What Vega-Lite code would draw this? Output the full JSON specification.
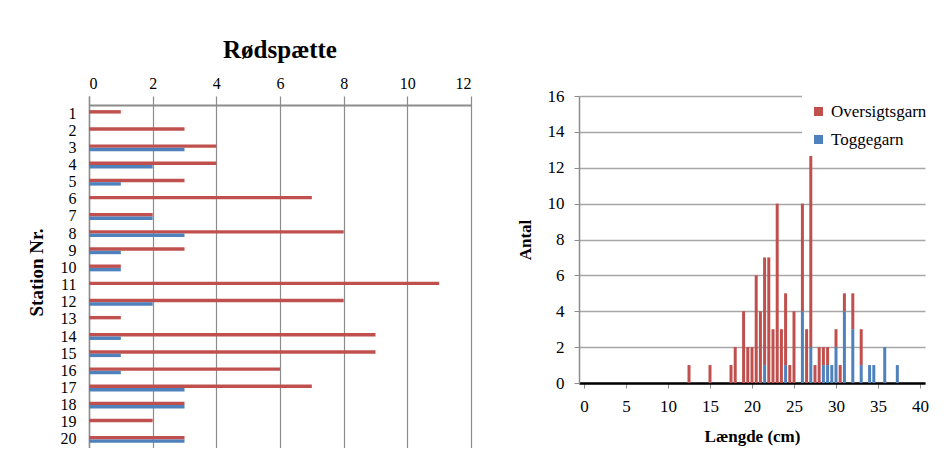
{
  "$schema": "https://vega.github.io/schema/vega-lite/v6.json",
  "padding": {"left": 27, "top": 38, "right": 0, "bottom": 0},
  "background": "white",
  "spacing": 45,
  "config": {
    "font": "Liberation Serif",
    "axis": {"labelFont": "Liberation Serif", "titleFont": "Liberation Serif", "labelColor": "black", "titleColor": "black"},
    "legend": {"labelFont": "Liberation Serif", "labelColor": "black"},
    "title": {"font": "Liberation Serif"}
  },
  "datasets": {
    "stations": [
      {"station": 1, "gear": "Oversigtsgarn", "n": 1}, {"station": 1, "gear": "Toggegarn", "n": 0},
      {"station": 2, "gear": "Oversigtsgarn", "n": 3}, {"station": 2, "gear": "Toggegarn", "n": 0},
      {"station": 3, "gear": "Oversigtsgarn", "n": 4}, {"station": 3, "gear": "Toggegarn", "n": 3},
      {"station": 4, "gear": "Oversigtsgarn", "n": 4}, {"station": 4, "gear": "Toggegarn", "n": 2},
      {"station": 5, "gear": "Oversigtsgarn", "n": 3}, {"station": 5, "gear": "Toggegarn", "n": 1},
      {"station": 6, "gear": "Oversigtsgarn", "n": 7}, {"station": 6, "gear": "Toggegarn", "n": 0},
      {"station": 7, "gear": "Oversigtsgarn", "n": 2}, {"station": 7, "gear": "Toggegarn", "n": 2},
      {"station": 8, "gear": "Oversigtsgarn", "n": 8}, {"station": 8, "gear": "Toggegarn", "n": 3},
      {"station": 9, "gear": "Oversigtsgarn", "n": 3}, {"station": 9, "gear": "Toggegarn", "n": 1},
      {"station": 10, "gear": "Oversigtsgarn", "n": 1}, {"station": 10, "gear": "Toggegarn", "n": 1},
      {"station": 11, "gear": "Oversigtsgarn", "n": 11}, {"station": 11, "gear": "Toggegarn", "n": 0},
      {"station": 12, "gear": "Oversigtsgarn", "n": 8}, {"station": 12, "gear": "Toggegarn", "n": 2},
      {"station": 13, "gear": "Oversigtsgarn", "n": 1}, {"station": 13, "gear": "Toggegarn", "n": 0},
      {"station": 14, "gear": "Oversigtsgarn", "n": 9}, {"station": 14, "gear": "Toggegarn", "n": 1},
      {"station": 15, "gear": "Oversigtsgarn", "n": 9}, {"station": 15, "gear": "Toggegarn", "n": 1},
      {"station": 16, "gear": "Oversigtsgarn", "n": 6}, {"station": 16, "gear": "Toggegarn", "n": 1},
      {"station": 17, "gear": "Oversigtsgarn", "n": 7}, {"station": 17, "gear": "Toggegarn", "n": 3},
      {"station": 18, "gear": "Oversigtsgarn", "n": 3}, {"station": 18, "gear": "Toggegarn", "n": 3},
      {"station": 19, "gear": "Oversigtsgarn", "n": 2}, {"station": 19, "gear": "Toggegarn", "n": 0},
      {"station": 20, "gear": "Oversigtsgarn", "n": 3}, {"station": 20, "gear": "Toggegarn", "n": 3}
    ],
    "lengths": [
      {"len": 12.5, "gear": "Oversigtsgarn", "n": 1},
      {"len": 15, "gear": "Oversigtsgarn", "n": 1},
      {"len": 17.5, "gear": "Oversigtsgarn", "n": 1},
      {"len": 18, "gear": "Oversigtsgarn", "n": 2},
      {"len": 19, "gear": "Oversigtsgarn", "n": 4},
      {"len": 19.5, "gear": "Oversigtsgarn", "n": 2},
      {"len": 20, "gear": "Oversigtsgarn", "n": 2},
      {"len": 20.5, "gear": "Oversigtsgarn", "n": 6},
      {"len": 21, "gear": "Oversigtsgarn", "n": 4},
      {"len": 21.5, "gear": "Toggegarn", "n": 1}, {"len": 21.5, "gear": "Oversigtsgarn", "n": 6},
      {"len": 22, "gear": "Oversigtsgarn", "n": 7},
      {"len": 22.5, "gear": "Oversigtsgarn", "n": 3},
      {"len": 23, "gear": "Oversigtsgarn", "n": 10},
      {"len": 23.5, "gear": "Oversigtsgarn", "n": 3},
      {"len": 24, "gear": "Toggegarn", "n": 1}, {"len": 24, "gear": "Oversigtsgarn", "n": 4},
      {"len": 24.5, "gear": "Oversigtsgarn", "n": 1},
      {"len": 25, "gear": "Oversigtsgarn", "n": 4},
      {"len": 26, "gear": "Toggegarn", "n": 4}, {"len": 26, "gear": "Oversigtsgarn", "n": 6},
      {"len": 26.5, "gear": "Oversigtsgarn", "n": 3},
      {"len": 27, "gear": "Toggegarn", "n": 2}, {"len": 27, "gear": "Oversigtsgarn", "n": 11},
      {"len": 27.5, "gear": "Oversigtsgarn", "n": 1},
      {"len": 28, "gear": "Oversigtsgarn", "n": 2},
      {"len": 28.5, "gear": "Toggegarn", "n": 1}, {"len": 28.5, "gear": "Oversigtsgarn", "n": 1},
      {"len": 29, "gear": "Toggegarn", "n": 1}, {"len": 29, "gear": "Oversigtsgarn", "n": 1},
      {"len": 29.5, "gear": "Toggegarn", "n": 1},
      {"len": 30, "gear": "Toggegarn", "n": 2}, {"len": 30, "gear": "Oversigtsgarn", "n": 1},
      {"len": 30.5, "gear": "Oversigtsgarn", "n": 1},
      {"len": 31, "gear": "Toggegarn", "n": 4}, {"len": 31, "gear": "Oversigtsgarn", "n": 1},
      {"len": 32, "gear": "Toggegarn", "n": 3}, {"len": 32, "gear": "Oversigtsgarn", "n": 2},
      {"len": 33, "gear": "Toggegarn", "n": 1}, {"len": 33, "gear": "Oversigtsgarn", "n": 2},
      {"len": 34, "gear": "Toggegarn", "n": 1},
      {"len": 34.5, "gear": "Toggegarn", "n": 1},
      {"len": 35.8, "gear": "Toggegarn", "n": 2},
      {"len": 37.3, "gear": "Toggegarn", "n": 1}
    ]
  },
  "resolve": {"scale": {"color": "independent"}, "legend": {"color": "independent"}},
  "hconcat": [
    {
      "width": 382,
      "height": 352,
      "data": {"name": "stations"},
      "title": {"text": "Rødspætte", "font": "Liberation Serif", "fontSize": 25, "fontWeight": "bold", "anchor": "middle", "offset": 12, "color": "black"},
      "view": {"stroke": null},
      "mark": {"type": "bar", "stroke": null},
      "encoding": {
        "y": {
          "field": "station", "type": "ordinal",
          "scale": {"paddingInner": 0.6, "paddingOuter": 0.5625, "align": 0.733},
          "axis": {"title": "Station Nr.", "titleFont": "Liberation Serif", "titleFontSize": 19, "titleFontWeight": "bold", "titlePadding": 14,
                   "labelFont": "Liberation Serif", "labelFontSize": 16, "labelPadding": 13, "ticks": false, "domainColor": "#8c8c8c", "domainWidth": 1.5, "labelAngle": 0}
        },
        "yOffset": {"field": "gear", "type": "nominal", "scale": {"paddingInner": 0, "paddingOuter": 0}},
        "x": {
          "field": "n", "type": "quantitative",
          "scale": {"domain": [0, 12], "nice": false},
          "axis": {"orient": "top", "offset": -9, "title": null, "values": [0, 2, 4, 6, 8, 10, 12], "labelFont": "Liberation Serif", "labelFontSize": 16,
                   "labelPadding": 14, "tickSize": 0, "ticks": false, "domainColor": "#8c8c8c", "domainWidth": 2,
                   "grid": true, "gridColor": "#8c8c8c", "gridWidth": 1.2}
        },
        "color": {
          "field": "gear", "type": "nominal",
          "scale": {"domain": ["Oversigtsgarn", "Toggegarn"], "range": ["#C0504D", "#4F81BD"]},
          "legend": null
        }
      }
    },
    {
      "width": 346,
      "height": 287,
      "data": {"name": "lengths"},
      "view": {"stroke": null},
      "mark": {"type": "bar", "size": 3},
      "encoding": {
        "x": {
          "field": "len", "type": "quantitative",
          "scale": {"domain": [0, 40], "nice": false},
          "axis": {"title": "Længde (cm)", "titleFont": "Liberation Serif", "titleFontSize": 17, "titleFontWeight": "bold", "titlePadding": 14,
                   "values": [0, 5, 10, 15, 20, 25, 30, 35, 40], "labelFont": "Liberation Serif", "labelFontSize": 17, "labelPadding": 10,
                   "tickSize": 5, "tickColor": "#8c8c8c", "domainColor": "black", "domainWidth": 2.5, "grid": false, "labelFlush": false}
        },
        "y": {
          "field": "n", "type": "quantitative", "stack": "zero",
          "scale": {"domain": [0, 16], "nice": false},
          "axis": {"title": "Antal", "titleFont": "Liberation Serif", "titleFontSize": 17, "titleFontWeight": "bold", "titlePadding": 13,
                   "values": [0, 2, 4, 6, 8, 10, 12, 14, 16], "labelFont": "Liberation Serif", "labelFontSize": 17, "labelPadding": 10,
                   "tickSize": 5, "tickColor": "#8c8c8c", "domainColor": "#8c8c8c", "domainWidth": 1.5,
                   "grid": true, "gridColor": "#a6a6a6", "gridWidth": 1.5}
        },
        "order": {"field": "gear", "type": "nominal", "sort": "descending"},
        "color": {
          "field": "gear", "type": "nominal",
          "scale": {"domain": ["Oversigtsgarn", "Toggegarn"], "range": ["#C0504D", "#4F81BD"]},
          "legend": {"title": null, "orient": "none", "legendX": 223, "legendY": -1, "fillColor": "white",
                     "padding": 8, "labelFont": "Liberation Serif", "labelFontSize": 17, "symbolType": "square", "symbolSize": 81,
                     "rowPadding": 10, "labelOffset": 4, "symbolStrokeWidth": 0}
        }
      }
    }
  ]
}
